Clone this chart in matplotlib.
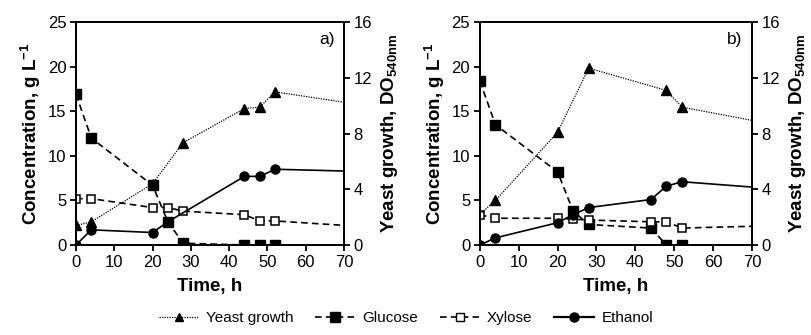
import matplotlib
matplotlib.use("Agg")
import matplotlib.pyplot as plt
from matplotlib.lines import Line2D

plt.rcParams['font.family'] = ['Liberation Sans', 'DejaVu Sans']
plt.rcParams['mathtext.fontset'] = 'custom'
plt.rcParams['mathtext.rm'] = 'Liberation Sans:bold'
plt.rcParams['mathtext.it'] = 'Liberation Sans:bold'
plt.rcParams['mathtext.bf'] = 'Liberation Sans:bold'

# sample times (h); last entry of each line is the trailing point at 70 h (no marker)
t_a = [0, 4, 20, 24, 28, 44, 48, 52]
glu_a = [16.9, 12.0, 6.7, 2.6, 0.2, 0.0, 0.0, 0.0]
xyl_a_t = [0, 4, 20, 24, 28, 44, 48, 52, 70]
xyl_a = [5.2, 5.2, 4.2, 4.2, 3.8, 3.4, 2.7, 2.7, 2.2]
eth_a_t = [0, 4, 20, 24, 44, 48, 52, 70]
eth_a = [0.0, 1.7, 1.4, 2.6, 7.7, 7.7, 8.5, 8.3]
yst_a_t = [0, 4, 20, 28, 44, 48, 52, 70]
yst_a = [1.4, 1.66, 4.4, 7.35, 9.8, 9.9, 11.0, 10.25]

t_b = [0, 4, 20, 24, 28, 44, 48, 52]
glu_b = [18.4, 13.5, 8.2, 3.8, 2.3, 1.9, 0.0, 0.0]
xyl_b_t = [0, 4, 20, 24, 28, 44, 48, 52, 70]
xyl_b = [3.4, 3.0, 3.0, 2.9, 2.8, 2.6, 2.6, 1.9, 2.1]
eth_b_t = [0, 4, 20, 24, 28, 44, 48, 52, 70]
eth_b = [0.0, 0.8, 2.5, 3.4, 4.2, 5.1, 6.6, 7.1, 6.5]
yst_b_t = [0, 4, 20, 28, 48, 52, 70]
yst_b = [2.2, 3.2, 8.1, 12.7, 11.1, 9.9, 8.95]

panels = [
    ("a)", t_a, glu_a, xyl_a_t, xyl_a, eth_a_t, eth_a, yst_a_t, yst_a, [0.0936, 0.2687, 0.330, 0.665]),
    ("b)", t_b, glu_b, xyl_b_t, xyl_b, eth_b_t, eth_b, yst_b_t, yst_b, [0.591, 0.2687, 0.335, 0.665]),
]

fig = plt.figure(figsize=(8.12, 3.35), dpi=100)
dash = (0, (4, 2.5))


def marks(ts):
    # markers only on sampled points, not the trailing 70 h point
    return [i for i, t in enumerate(ts) if t < 70]


for tag, t, glu, xt, xyl, et, eth, yt, yst, rect in panels:
    ax = fig.add_axes(rect)
    ax2 = ax.twinx()
    ax.plot(t, glu, color='black', lw=1.2, ls=dash, marker='s', ms=6.5,
            mfc='black', zorder=3)
    ax.plot(xt, xyl, color='black', lw=1.2, ls=dash, marker='s', ms=5.5,
            mfc='white', mew=1.1, markevery=marks(xt), zorder=3)
    ax.plot(et, eth, color='black', lw=1.2, ls='-', marker='o', ms=6.5,
            markevery=marks(et), zorder=3)
    ax2.plot(yt, yst, color='black', lw=0.9, ls=(0, (1, 1)), marker='^', ms=6.5,
             markevery=marks(yt)[1:] if tag == "b)" else marks(yt))
    ax.set_xlim(0, 70)
    ax.set_ylim(0, 25)
    ax2.set_ylim(0, 16)
    ax.set_xticks(range(0, 71, 10))
    ax.set_yticks(range(0, 26, 5))
    ax2.set_yticks([0, 4, 8, 12, 16])
    for a in (ax, ax2):
        a.tick_params(direction='out', length=4, width=1.3, labelsize=12, pad=3)
        for s in a.spines.values():
            s.set_linewidth(1.4)
    ax.set_xlabel("Time, h", fontsize=13.5, fontweight='bold', labelpad=6)
    ax.set_ylabel(r"Concentration, g L$^{\mathbf{-1}}$", fontsize=13.5,
                  fontweight='bold', labelpad=3)
    ax2.set_ylabel(r"Yeast growth, DO$_{\mathbf{540nm}}$", fontsize=13.5,
                   fontweight='bold', labelpad=5)
    ax.text(0.965, 0.955, tag, transform=ax.transAxes, ha='right', va='top',
            fontsize=12.5)

handles = [
    Line2D([], [], color='black', lw=0.9, ls=(0, (1, 1)), marker='^', ms=6),
    Line2D([], [], color='black', lw=1.2, ls=dash, marker='s', ms=6.5, mfc='black'),
    Line2D([], [], color='black', lw=1.2, ls=dash, marker='s', ms=5.5, mfc='white'),
    Line2D([], [], color='black', lw=1.6, ls='-', marker='o', ms=6.5),
]
labels = ["Yeast growth", "Glucose", "Xylose", "Ethanol"]
fig.legend(handles, labels, loc='center', bbox_to_anchor=(0.5, 0.05), ncol=4,
           frameon=False, fontsize=11, handlelength=2.6, handletextpad=0.5,
           columnspacing=1.4)

fig.savefig("out.png", dpi=100)
